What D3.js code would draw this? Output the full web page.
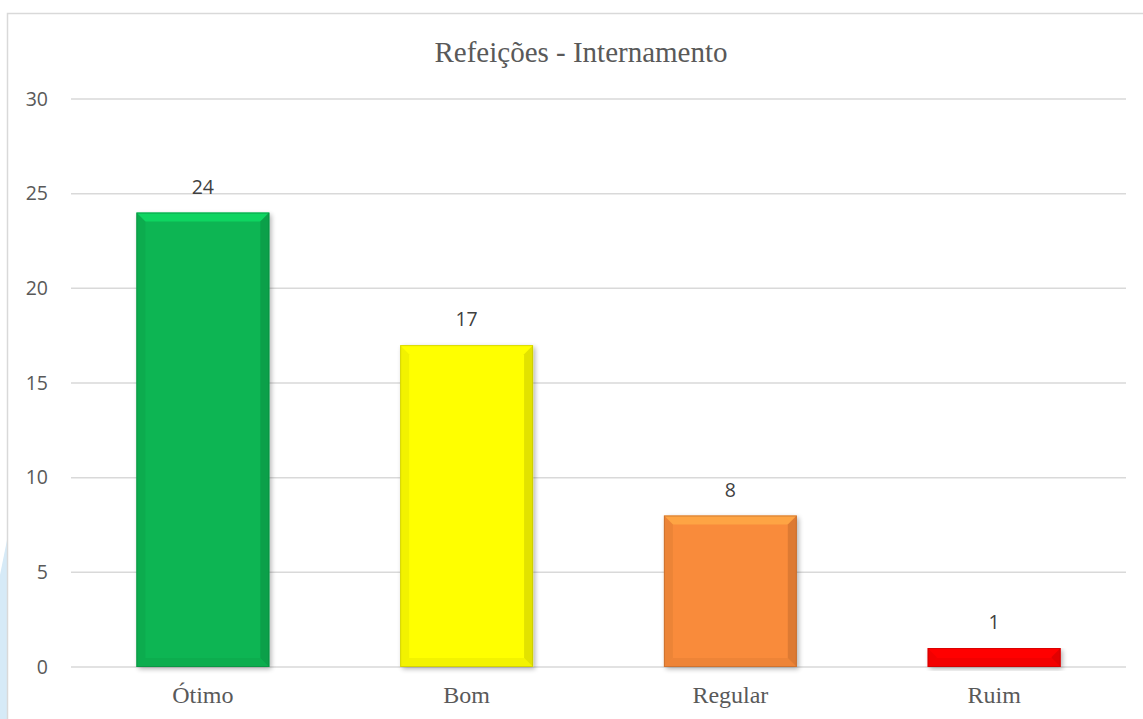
<!DOCTYPE html>
<html>
<head>
<meta charset="utf-8">
<script src="https://cdn.jsdelivr.net/npm/d3@7"></script>
<style>
  body { margin: 0; background: #fff; }
  svg { display: block; }
</style>
</head>
<body>
<svg id="chart" width="1143" height="719"></svg>
<script>
const categories = ["Ótimo", "Bom", "Regular", "Ruim"];
const values = [24, 17, 8, 1];
const barColors = ["#0cb552", "#ffff00", "#f98b3a", "#ff0000"];
const yTicks = [0, 5, 10, 15, 20, 25, 30];
const title = "Refeições - Internamento";

const svg = d3.select("#chart");
const margin = { left: 71, right: 1126, top: 99, bottom: 667 };

// faint blue shape peeking out at the bottom left
svg.append("path")
  .attr("d", "M0,575 Q4,555 7,540 L7,719 L0,719 Z")
  .attr("fill", "#d6eaf7");

// chart frame
svg.append("rect")
  .attr("x", 7.5).attr("y", 13.5)
  .attr("width", 1150).attr("height", 720)
  .attr("fill", "#fff")
  .attr("stroke", "#d9d9d9")
  .attr("stroke-width", 1.5);

const x = d3.scaleBand()
  .domain(categories)
  .range([margin.left, margin.right])
  .paddingInner(0.496)
  .paddingOuter(0.248);

const y = d3.scaleLinear()
  .domain([0, 30])
  .range([margin.bottom, margin.top]);

// gridlines
svg.append("g")
  .selectAll("line")
  .data(yTicks)
  .join("line")
  .attr("x1", margin.left).attr("x2", margin.right)
  .attr("y1", d => y(d)).attr("y2", d => y(d))
  .attr("stroke", "#d9d9d9")
  .attr("stroke-width", 1.5);

// y axis labels
svg.append("g")
  .selectAll("text")
  .data(yTicks)
  .join("text")
  .attr("x", 48)
  .attr("y", d => y(d))
  .attr("dy", "0.35em")
  .attr("text-anchor", "end")
  .attr("font-family", "'Open Sans', sans-serif")
  .attr("font-size", 19.5)
  .attr("fill", "#595959")
  .text(d => d);

const defs = svg.append("defs");
const shadow = defs.append("filter").attr("id", "shadow")
  .attr("x", "-10%").attr("y", "-10%").attr("width", "130%").attr("height", "130%");
shadow.append("feGaussianBlur").attr("in", "SourceAlpha").attr("stdDeviation", 2.5);
shadow.append("feOffset").attr("dx", 2).attr("dy", 2).attr("result", "b");
shadow.append("feComponentTransfer").append("feFuncA").attr("type", "linear").attr("slope", 0.3);
const merge = shadow.append("feMerge");
merge.append("feMergeNode");
merge.append("feMergeNode").attr("in", "SourceGraphic");

const bars = svg.append("g")
  .selectAll("g")
  .data(categories.map((c, i) => ({ c, v: values[i], color: barColors[i] })))
  .join("g");

bars.append("rect")
  .attr("x", d => x(d.c))
  .attr("y", d => y(d.v))
  .attr("width", x.bandwidth())
  .attr("height", d => y(0) - y(d.v))
  .attr("fill", d => d.color)
  .attr("filter", "url(#shadow)");

// bevel edges
const bev = 9;
bars.each(function(d) {
  const g = d3.select(this);
  const x0 = x(d.c), x1 = x0 + x.bandwidth();
  const y0 = y(d.v), y1 = y(0);
  const b = Math.min(bev, (y1 - y0) / 2);
  const c = d3.color(d.color);
  // top (light)
  g.append("path")
    .attr("d", `M${x0},${y0} L${x1},${y0} L${x1 - b},${y0 + b} L${x0 + b},${y0 + b} Z`)
    .attr("fill", c.brighter(0.6)).attr("opacity", 0.75);
  // left
  g.append("path")
    .attr("d", `M${x0},${y0} L${x0 + b},${y0 + b} L${x0 + b},${y1 - b} L${x0},${y1} Z`)
    .attr("fill", c.darker(0.3)).attr("opacity", 0.5);
  // right (dark)
  g.append("path")
    .attr("d", `M${x1},${y0} L${x1},${y1} L${x1 - b},${y1 - b} L${x1 - b},${y0 + b} Z`)
    .attr("fill", c.darker(0.6)).attr("opacity", 0.6);
  // bottom
  g.append("path")
    .attr("d", `M${x0},${y1} L${x0 + b},${y1 - b} L${x1 - b},${y1 - b} L${x1},${y1} Z`)
    .attr("fill", c.darker(0.3)).attr("opacity", 0.45);
  g.append("rect")
    .attr("x", x0 + 0.5).attr("y", y0 + 0.5)
    .attr("width", x.bandwidth() - 1).attr("height", y1 - y0 - 1)
    .attr("fill", "none")
    .attr("stroke", c.darker(0.8)).attr("stroke-width", 1).attr("opacity", 0.6);
});

// data labels
bars.append("text")
  .attr("x", d => x(d.c) + x.bandwidth() / 2)
  .attr("y", d => y(d.v) - 19)
  .attr("text-anchor", "middle")
  .attr("font-family", "'Open Sans', sans-serif")
  .attr("font-size", 19.5)
  .attr("fill", "#404040")
  .text(d => d.v);

// x labels
svg.append("g")
  .selectAll("text")
  .data(categories)
  .join("text")
  .attr("x", d => x(d) + x.bandwidth() / 2)
  .attr("y", 703)
  .attr("text-anchor", "middle")
  .attr("font-family", "'Liberation Serif', 'Times New Roman', serif")
  .attr("font-size", 24)
  .attr("fill", "#595959")
  .text(d => d);

// title
svg.append("text")
  .attr("x", 581)
  .attr("y", 62)
  .attr("text-anchor", "middle")
  .attr("font-family", "'Liberation Serif', 'Times New Roman', serif")
  .attr("font-size", 29)
  .attr("fill", "#595959")
  .text(title);
</script>
</body>
</html>
